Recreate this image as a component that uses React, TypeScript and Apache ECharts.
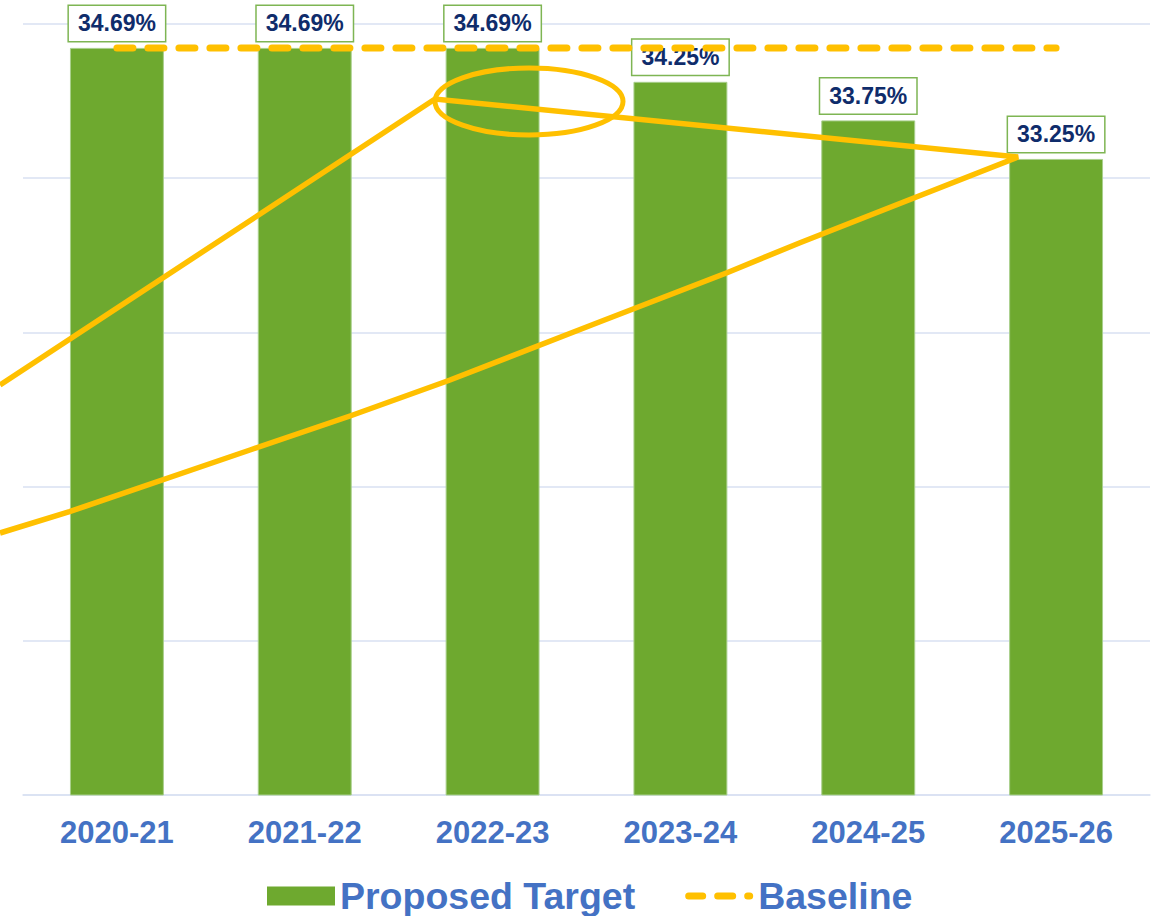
import React, { useEffect, useRef } from "react";
import * as echarts from "echarts";

const categories = ["2020-21", "2021-22", "2022-23", "2023-24", "2024-25", "2025-26"];
const proposedTarget = [34.69, 34.69, 34.69, 34.25, 33.75, 33.25];
const baseline = [34.69, 34.69, 34.69, 34.69, 34.69, 34.69];
const yMin = 25;
const yMax = 35;
const yStep = 2;

const FONT = "'Liberation Sans', Arial, Helvetica, sans-serif";
const GOLD = "#FFC000";
const GREEN = "#6EA92F";

const dashIcon =
  "path://M0,0 M3.5,6 h14 a3.5,3.5 0 0 1 0,7 h-14 a3.5,3.5 0 0 1 0,-7 Z " +
  "M32.5,6 h15 a3.5,3.5 0 0 1 0,7 h-15 a3.5,3.5 0 0 1 0,-7 Z " +
  "M62.5,6 h2 a3.5,3.5 0 0 1 0,7 h-2 a3.5,3.5 0 0 1 0,-7 Z M68,19";

export default function App() {
  const ref = useRef<HTMLDivElement>(null);

  useEffect(() => {
    if (!ref.current) return;
    const chart = echarts.init(ref.current, null, { renderer: "svg" });
    chart.setOption({
      animation: false,
      backgroundColor: "#ffffff",
      textStyle: { fontFamily: FONT },
      grid: { left: 23, right: 3, top: 24, bottom: 121, containLabel: false },
      legend: {
        data: [
          { name: "Proposed Target", icon: "rect", itemStyle: { color: GREEN, borderWidth: 0 } },
          { name: "Baseline", icon: dashIcon, itemStyle: { color: GOLD, borderWidth: 0 } },
        ],
        left: 267,
        top: 877,
        padding: 0,
        itemWidth: 68,
        itemHeight: 19,
        itemGap: 50,
        textStyle: { fontSize: 37.5, fontWeight: "bold", color: "#4472C4", fontFamily: FONT },
      },
      xAxis: {
        type: "category",
        data: categories,
        axisLine: { show: true, lineStyle: { color: "#D9E1F2", width: 1.5 } },
        axisTick: { show: false },
        axisLabel: {
          margin: 22,
          fontSize: 31,
          fontWeight: "bold",
          color: "#4472C4",
          fontFamily: FONT,
        },
      },
      yAxis: {
        type: "value",
        min: yMin,
        max: yMax,
        interval: yStep,
        axisLabel: { show: false },
        axisLine: { show: false },
        axisTick: { show: false },
        splitLine: { show: true, lineStyle: { color: "#D9E1F2", width: 1.5 } },
      },
      series: [
        {
          name: "Proposed Target",
          type: "bar",
          data: proposedTarget,
          barWidth: "50%",
          itemStyle: { color: GREEN, borderColor: "#A9CF8C", borderWidth: 1 },
          label: {
            show: true,
            position: "top",
            distance: 7,
            formatter: (p: any) => p.value.toFixed(2) + "%",
            fontSize: 23,
            fontWeight: "bold",
            color: "#0F2C6B",
            fontFamily: FONT,
            backgroundColor: "#ffffff",
            borderColor: "#7EB553",
            borderWidth: 1.5,
            padding: [6, 9, 6, 9],
          },
          z: 2,
        },
        {
          name: "Baseline",
          type: "line",
          data: baseline,
          symbol: "none",
          lineStyle: { color: GOLD, width: 7, type: [16, 15], cap: "round" },
          itemStyle: { color: GOLD },
          z: 3,
        },
      ],
      graphic: [
        {
          type: "polyline",
          z: 100,
          shape: {
            points: [
              [0, 385],
              [435, 99],
              [1018, 157],
              [800, 242.7],
              [727, 272.7],
              [600, 321.7],
              [450, 380],
              [350, 416],
              [250, 450],
              [69.5, 511.7],
              [0, 533],
            ],
          },
          style: { fill: null, stroke: GOLD, lineWidth: 5.5, lineJoin: "miter" },
        },
        {
          type: "ellipse",
          z: 100,
          shape: { cx: 529, cy: 101.5, rx: 94, ry: 33.5 },
          style: { fill: null, stroke: GOLD, lineWidth: 5 },
        },
      ],
    });
    return () => chart.dispose();
  }, []);

  return (
    <div
      ref={ref}
      style={{ position: "absolute", left: 0, top: 0, width: 1153, height: 916, background: "#fff" }}
    />
  );
}
